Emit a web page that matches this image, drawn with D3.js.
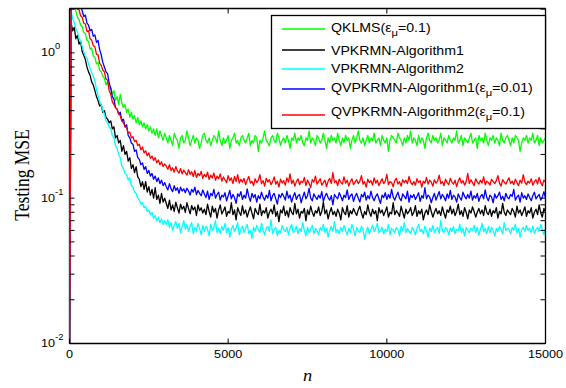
<!DOCTYPE html>
<html><head><meta charset="utf-8">
<script src="https://cdn.jsdelivr.net/npm/d3@7"></script>
<style>body{margin:0;background:#fff}svg{display:block}</style>
</head><body>
<script>
// sample positions: every 50 iterations, 0..15000
const nIndex = d3.range(0, 15001, 50);
const xTicks = [0, 5000, 10000, 15000];
const yTickExp = [0, -1, -2];

const qklms = [0.001,
2.6,2.3,2.05,1.95,1.75,1.70,1.55,1.52,1.38,1.36,1.22,1.20,
1.06,1.08,0.95,0.93,0.84,0.86,0.76,0.74,0.69,0.67,0.60,0.64,
0.57,0.58,0.52,0.55,0.47,0.50,0.44,0.52,0.45,0.42,0.44,0.39,
0.41,0.36,0.39,0.35,0.37,0.33,0.36,0.32,0.34,0.31,0.33,0.30,
0.32,0.29,0.31,0.28,0.30,0.27,0.30,0.26,0.29,0.27,0.25,0.28,
0.26,0.24,0.27,0.25,0.23,0.28,0.26,0.25,0.22,0.26,0.27,0.24,
0.25,0.29,0.26,0.23,0.25,0.27,0.24,0.26,0.25,0.22,0.24,0.27,
0.28,0.25,0.24,0.26,0.23,0.25,0.27,0.26,0.24,0.29,0.25,0.23,
0.26,0.24,0.25,0.27,0.22,0.25,0.26,0.28,0.24,0.25,0.23,0.26,
0.27,0.25,0.24,0.26,0.28,0.23,0.25,0.24,0.27,0.26,0.21,0.25,
0.24,0.26,0.29,0.25,0.24,0.23,0.26,0.27,0.25,0.24,0.28,0.26,
0.23,0.25,0.26,0.24,0.27,0.25,0.22,0.26,0.25,0.28,0.24,0.26,
0.25,0.27,0.24,0.23,0.26,0.25,0.29,0.24,0.26,0.25,0.23,0.27,
0.26,0.24,0.25,0.28,0.25,0.22,0.26,0.24,0.27,0.25,0.26,0.24,
0.28,0.25,0.23,0.26,0.24,0.27,0.25,0.26,0.22,0.25,0.27,0.24,
0.26,0.29,0.25,0.24,0.26,0.23,0.25,0.27,0.24,0.26,0.25,0.28,
0.24,0.25,0.26,0.23,0.27,0.25,0.24,0.26,0.21,0.25,0.27,0.26,
0.25,0.24,0.28,0.26,0.25,0.23,0.26,0.24,0.27,0.25,0.29,0.24,
0.26,0.25,0.23,0.27,0.24,0.26,0.25,0.22,0.26,0.28,0.25,0.24,
0.27,0.25,0.26,0.24,0.25,0.28,0.23,0.26,0.25,0.24,0.27,0.25,
0.24,0.26,0.25,0.29,0.24,0.25,0.27,0.23,0.26,0.25,0.24,0.26,
0.28,0.24,0.25,0.26,0.22,0.27,0.25,0.26,0.24,0.28,0.25,0.23,
0.26,0.25,0.27,0.24,0.26,0.25,0.23,0.28,0.25,0.24,0.26,0.27,
0.25,0.23,0.26,0.24,0.27,0.26,0.25,0.21,0.24,0.26,0.25,0.27,
0.24,0.26,0.25,0.28,0.24,0.25,0.27,0.23,0.26,0.24,0.25,0.26];

const vpAlg1 = [0.001,
1.6,1.42,1.50,1.25,1.32,1.15,1.20,1.02,0.96,0.90,0.80,0.74,
0.70,0.63,0.60,0.55,0.50,0.47,0.43,0.44,0.39,0.40,0.36,0.35,
0.33,0.34,0.30,0.31,0.26,0.27,0.24,0.25,0.21,0.23,0.20,0.21,
0.18,0.19,0.16,0.17,0.15,0.165,0.14,0.135,0.12,0.13,0.115,0.13,
0.11,0.12,0.105,0.115,0.10,0.118,0.098,0.105,0.092,0.108,0.094,0.10,
0.092,0.085,0.097,0.083,0.090,0.081,0.094,0.086,0.079,0.091,0.084,0.088,
0.080,0.093,0.085,0.078,0.089,0.083,0.087,0.076,0.090,0.082,0.086,0.079,
0.084,0.077,0.091,0.081,0.074,0.088,0.080,0.085,0.073,0.083,0.090,0.078,
0.082,0.087,0.075,0.081,0.079,0.093,0.077,0.083,0.071,0.086,0.080,0.076,
0.089,0.078,0.083,0.074,0.081,0.087,0.079,0.072,0.085,0.080,0.077,0.091,
0.076,0.082,0.079,0.086,0.073,0.080,0.084,0.078,0.090,0.075,0.081,0.069,
0.083,0.079,0.088,0.076,0.082,0.074,0.086,0.080,0.077,0.092,0.078,0.084,
0.073,0.081,0.079,0.085,0.070,0.083,0.077,0.088,0.080,0.075,0.082,0.079,
0.087,0.076,0.081,0.094,0.078,0.083,0.072,0.080,0.086,0.077,0.081,0.075,
0.084,0.079,0.071,0.086,0.080,0.077,0.089,0.074,0.082,0.078,0.085,0.080,
0.076,0.083,0.088,0.079,0.073,0.081,0.077,0.090,0.080,0.075,0.084,0.078,
0.082,0.070,0.086,0.079,0.083,0.076,0.081,0.087,0.074,0.080,0.078,0.093,
0.077,0.082,0.079,0.075,0.088,0.080,0.073,0.084,0.078,0.081,0.086,0.076,
0.080,0.089,0.075,0.082,0.078,0.084,0.071,0.079,0.083,0.077,0.090,0.081,
0.074,0.080,0.085,0.078,0.082,0.076,0.087,0.079,0.073,0.083,0.080,0.088,
0.078,0.084,0.076,0.081,0.091,0.077,0.082,0.075,0.086,0.080,0.072,0.083,
0.079,0.087,0.081,0.074,0.080,0.085,0.078,0.083,0.076,0.089,0.080,0.077,
0.084,0.075,0.082,0.079,0.086,0.073,0.081,0.078,0.092,0.080,0.076,0.083,
0.080,0.077,0.085,0.081,0.074,0.088,0.079,0.083,0.076,0.081,0.087,0.075,
0.082,0.079,0.086,0.073,0.080,0.084,0.077,0.090,0.079,0.074,0.085,0.080];

const vpAlg2 = [0.001,
1.95,1.72,1.62,1.46,1.40,1.26,1.20,1.11,1.02,0.95,0.92,0.84,
0.78,0.73,0.69,0.64,0.56,0.51,0.46,0.44,0.40,0.38,0.34,0.33,
0.31,0.30,0.27,0.26,0.23,0.22,0.20,0.19,0.165,0.16,0.148,0.145,
0.133,0.138,0.122,0.12,0.11,0.108,0.10,0.097,0.091,0.093,0.086,0.088,
0.081,0.083,0.077,0.080,0.073,0.076,0.070,0.074,0.068,0.072,0.066,0.070,
0.066,0.071,0.063,0.068,0.060,0.065,0.069,0.062,0.067,0.058,0.064,0.070,
0.061,0.066,0.059,0.064,0.068,0.057,0.063,0.060,0.067,0.062,0.056,0.065,
0.059,0.064,0.061,0.055,0.066,0.060,0.063,0.070,0.058,0.062,0.057,0.064,
0.060,0.067,0.058,0.063,0.054,0.061,0.065,0.059,0.062,0.068,0.056,0.061,
0.064,0.058,0.062,0.066,0.057,0.060,0.053,0.063,0.059,0.065,0.061,0.058,
0.067,0.060,0.056,0.062,0.064,0.059,0.071,0.057,0.061,0.063,0.055,0.060,
0.058,0.065,0.061,0.059,0.063,0.056,0.062,0.066,0.058,0.060,0.064,0.057,
0.062,0.059,0.068,0.060,0.055,0.063,0.058,0.061,0.065,0.057,0.062,0.060,
0.056,0.063,0.060,0.066,0.058,0.062,0.054,0.060,0.064,0.059,0.069,0.058,
0.061,0.057,0.063,0.059,0.065,0.060,0.056,0.062,0.058,0.066,0.061,0.055,
0.063,0.060,0.058,0.064,0.061,0.052,0.059,0.063,0.057,0.061,0.065,0.059,
0.062,0.067,0.058,0.060,0.063,0.057,0.061,0.059,0.066,0.056,0.062,0.060,
0.058,0.063,0.061,0.055,0.064,0.060,0.068,0.058,0.062,0.059,0.057,0.063,
0.060,0.056,0.062,0.066,0.059,0.061,0.057,0.064,0.060,0.054,0.062,0.059,
0.065,0.058,0.061,0.063,0.057,0.070,0.060,0.058,0.063,0.061,0.056,0.062,
0.059,0.064,0.057,0.061,0.060,0.066,0.058,0.062,0.055,0.063,0.060,0.058,
0.062,0.060,0.065,0.058,0.063,0.056,0.061,0.067,0.059,0.062,0.057,0.064,
0.058,0.063,0.060,0.055,0.062,0.059,0.064,0.061,0.057,0.068,0.060,0.062,
0.061,0.057,0.063,0.060,0.066,0.058,0.062,0.054,0.061,0.063,0.059,0.065,
0.060,0.062,0.058,0.064,0.057,0.061,0.063,0.059,0.066,0.060,0.056,0.062];

const qvpAlg1 = [0.001,
2.6,2.5,2.4,2.3,2.15,2.05,2.1,1.95,1.78,1.82,1.60,1.55,
1.42,1.45,1.30,1.33,1.18,1.22,1.05,0.97,0.86,0.80,0.74,0.72,
0.62,0.57,0.50,0.48,0.42,0.41,0.38,0.39,0.34,0.35,0.31,0.32,
0.27,0.26,0.24,0.235,0.21,0.215,0.19,0.185,0.17,0.175,0.158,0.165,
0.148,0.155,0.142,0.148,0.135,0.142,0.130,0.138,0.126,0.133,0.122,0.128,
0.120,0.114,0.126,0.116,0.111,0.122,0.113,0.118,0.108,0.119,0.112,0.116,
0.109,0.117,0.112,0.105,0.115,0.110,0.119,0.106,0.113,0.108,0.104,0.114,
0.107,0.101,0.112,0.098,0.108,0.104,0.115,0.100,0.106,0.110,0.097,0.105,
0.102,0.109,0.096,0.104,0.113,0.099,0.106,0.101,0.092,0.107,0.103,0.111,
0.098,0.105,0.100,0.116,0.103,0.095,0.108,0.101,0.106,0.094,0.104,0.099,
0.110,0.102,0.097,0.105,0.100,0.113,0.096,0.104,0.108,0.099,0.091,0.106,
0.101,0.108,0.103,0.097,0.112,0.100,0.105,0.094,0.103,0.109,0.098,0.104,
0.106,0.093,0.102,0.110,0.099,0.104,0.117,0.100,0.096,0.107,0.102,0.098,
0.105,0.100,0.111,0.095,0.103,0.108,0.101,0.097,0.104,0.090,0.106,0.102,
0.099,0.109,0.103,0.096,0.105,0.101,0.114,0.098,0.104,0.107,0.095,0.103,
0.108,0.100,0.094,0.106,0.102,0.110,0.097,0.104,0.099,0.112,0.101,0.096,
0.103,0.107,0.099,0.092,0.105,0.101,0.109,0.098,0.106,0.100,0.115,0.102,
0.097,0.104,0.110,0.100,0.096,0.107,0.103,0.099,0.112,0.094,0.105,0.101,
0.106,0.098,0.103,0.109,0.095,0.104,0.100,0.118,0.099,0.105,0.102,0.093,
0.101,0.108,0.097,0.104,0.111,0.099,0.106,0.102,0.096,0.107,0.100,0.113,
0.098,0.105,0.102,0.094,0.107,0.101,0.097,0.110,0.103,0.099,0.106,0.100,
0.112,0.097,0.104,0.100,0.108,0.095,0.103,0.106,0.099,0.114,0.101,0.096,
0.105,0.102,0.093,0.107,0.100,0.104,0.110,0.098,0.103,0.096,0.108,0.101,
0.099,0.106,0.103,0.115,0.097,0.102,0.105,0.094,0.109,0.100,0.104,0.098,
0.107,0.101,0.096,0.104,0.110,0.099,0.103,0.106,0.097,0.102,0.111,0.100];

const qvpAlg2 = [0.001,
2.5,2.35,2.3,2.15,2.0,1.98,1.80,1.76,1.60,1.58,1.40,1.42,
1.25,1.22,1.12,1.10,0.98,0.97,0.85,0.82,0.76,0.74,0.66,0.65,
0.55,0.52,0.46,0.44,0.42,0.41,0.38,0.37,0.34,0.33,0.31,0.305,
0.28,0.285,0.26,0.265,0.245,0.25,0.23,0.235,0.215,0.225,0.205,0.212,
0.196,0.205,0.188,0.195,0.182,0.19,0.175,0.183,0.17,0.178,0.165,0.172,
0.166,0.158,0.170,0.155,0.162,0.151,0.165,0.154,0.149,0.160,0.147,0.156,
0.150,0.144,0.157,0.146,0.152,0.141,0.155,0.139,0.148,0.143,0.153,0.137,
0.146,0.140,0.151,0.135,0.144,0.138,0.149,0.133,0.142,0.136,0.147,0.131,
0.140,0.134,0.128,0.143,0.132,0.138,0.126,0.141,0.130,0.145,0.127,0.135,
0.129,0.137,0.124,0.133,0.141,0.127,0.131,0.122,0.136,0.128,0.133,0.145,
0.126,0.132,0.121,0.137,0.129,0.134,0.124,0.130,0.140,0.125,0.131,0.119,
0.135,0.127,0.132,0.123,0.138,0.129,0.147,0.126,0.133,0.121,0.130,0.136,
0.124,0.131,0.128,0.139,0.122,0.133,0.127,0.118,0.134,0.129,0.142,0.125,
0.130,0.136,0.123,0.128,0.133,0.120,0.131,0.137,0.126,0.150,0.128,0.132,
0.122,0.135,0.129,0.125,0.140,0.127,0.133,0.121,0.130,0.136,0.124,0.129,
0.134,0.126,0.131,0.143,0.125,0.130,0.119,0.135,0.128,0.132,0.123,0.138,
0.127,0.133,0.122,0.129,0.136,0.126,0.131,0.146,0.124,0.130,0.128,0.120,
0.132,0.137,0.125,0.130,0.121,0.134,0.128,0.133,0.126,0.141,0.129,0.124,
0.130,0.123,0.136,0.128,0.132,0.119,0.131,0.127,0.139,0.125,0.133,0.129,
0.121,0.134,0.127,0.131,0.144,0.126,0.130,0.122,0.135,0.128,0.124,0.137,
0.129,0.125,0.133,0.120,0.131,0.138,0.127,0.132,0.123,0.130,0.148,0.126,
0.134,0.128,0.122,0.136,0.129,0.125,0.133,0.127,0.140,0.124,0.131,0.128,
0.123,0.135,0.130,0.126,0.132,0.143,0.127,0.121,0.134,0.129,0.125,0.132,
0.138,0.126,0.131,0.124,0.135,0.128,0.122,0.133,0.127,0.145,0.129,0.124,
0.131,0.127,0.136,0.123,0.130,0.134,0.125,0.139,0.128,0.122,0.133,0.129];

const seriesNames = ["QKLMS", "VPKRMN-Algorithm1", "VPKRMN-Algorithm2", "QVPKRMN-Algorithm1", "QVPKRMN-Algorithm2"];
const seriesEps = ["0.1", null, null, "0.01", "0.1"];
const seriesValues = [qklms, vpAlg1, vpAlg2, qvpAlg1, qvpAlg2];
const seriesColors = ["#00ff00", "#000000", "#00ffff", "#0000ff", "#ff0000"];

const W = 566, H = 388;
const L = 69.5, R = 545.5, T = 8.5, B = 343.5;
const sansFont = "Liberation Sans, Arial, sans-serif";
const serifFont = "Liberation Serif, Times New Roman, serif";

const svg = d3.select("body").append("svg").attr("width", W).attr("height", H);

const x = d3.scaleLinear().domain([0, 15000]).range([L, R]);
const y = d3.scaleLog().domain([0.01, 2.02]).range([B, T]);

svg.append("defs").append("clipPath").attr("id", "clip")
  .append("rect").attr("x", L - 1.5).attr("y", T).attr("width", R - L + 1.5).attr("height", B - T);

// left axis line (curves drawn over it)
svg.append("line").attr("x1", L).attr("x2", L).attr("y1", T).attr("y2", B).attr("stroke", "#000").attr("stroke-width", 1.3);

// curves
const line = d3.line().x((d, i) => x(nIndex[i])).y(d => y(Math.max(d, 0.005)));
const gLines = svg.append("g").attr("clip-path", "url(#clip)");
seriesValues.forEach((vals, k) => {
  gLines.append("path").datum(vals).attr("d", line)
    .attr("fill", "none").attr("stroke", seriesColors[k]).attr("stroke-width", 1.3)
    .attr("stroke-linejoin", "round");
});

// rest of box
const axStroke = "#000";
svg.append("line").attr("x1", L).attr("x2", R).attr("y1", T).attr("y2", T).attr("stroke", axStroke).attr("stroke-width", 1.3);
svg.append("line").attr("x1", L).attr("x2", R).attr("y1", B).attr("y2", B).attr("stroke", axStroke).attr("stroke-width", 1.3);
svg.append("line").attr("x1", R).attr("x2", R).attr("y1", T).attr("y2", B).attr("stroke", axStroke).attr("stroke-width", 1.3);

// x ticks (bottom & top, inward)
const tl = 5;
const gx = svg.append("g").attr("stroke", axStroke).attr("stroke-width", 1);
xTicks.forEach(t => {
  gx.append("line").attr("x1", x(t)).attr("x2", x(t)).attr("y1", B).attr("y2", B - tl);
  gx.append("line").attr("x1", x(t)).attr("x2", x(t)).attr("y1", T).attr("y2", T + tl);
});
xTicks.forEach(t => {
  svg.append("g").attr("transform", `translate(${x(t)},${B + 14}) scale(1.1,1)`)
    .append("text").attr("text-anchor", "middle")
    .attr("font-family", sansFont).attr("font-size", 11.5).text(t);
});

// y ticks: majors and minors (log)
const yTickVals = [];
for (let e = -2; e <= 0; e++) for (let m = 1; m <= 9; m++) {
  const v = m * Math.pow(10, e);
  if (v <= 2.02) yTickVals.push(v);
}
const gy = svg.append("g").attr("stroke", axStroke).attr("stroke-width", 1);
yTickVals.forEach(v => {
  gy.append("line").attr("x1", L).attr("x2", L + tl).attr("y1", y(v)).attr("y2", y(v));
  gy.append("line").attr("x1", R).attr("x2", R - tl).attr("y1", y(v)).attr("y2", y(v));
});
yTickExp.forEach(e => {
  const t = svg.append("g").attr("transform", `translate(41,${y(Math.pow(10, e)) + 3.5}) scale(1.1,1)`)
    .append("text").attr("font-family", sansFont).attr("font-size", 11.5);
  t.append("tspan").text("10");
  t.append("tspan").attr("dy", -7).attr("font-size", 8.5).text(e === 0 ? "0" : "-" + Math.abs(e));
});

// axis titles
svg.append("g").attr("transform", `translate(${(L + R) / 2},381) scale(1.15,1)`)
  .append("text").attr("text-anchor", "middle")
  .attr("font-family", serifFont).attr("font-style", "italic").attr("font-size", 16).text("n");
svg.append("g").attr("transform", "translate(28.5,175) scale(1.2,1) rotate(-90)")
  .append("text").attr("text-anchor", "middle")
  .attr("font-family", serifFont).attr("font-size", 17.5).text("Testing MSE");

// legend
const lg = svg.append("g");
lg.append("rect").attr("x", 271.5).attr("y", 15.5).attr("width", 274).attr("height", 113)
  .attr("fill", "#fff").attr("stroke", "#000").attr("stroke-width", 1.3);
const legLineY = [29, 50, 69, 89, 115];
const legTextY = [32, 55, 73, 92, 116];
seriesNames.forEach((name, k) => {
  lg.append("line").attr("x1", 282).attr("x2", 325).attr("y1", legLineY[k]).attr("y2", legLineY[k])
    .attr("stroke", seriesColors[k]).attr("stroke-width", 1.3);
  const t = lg.append("g").attr("transform", `translate(331,${legTextY[k]}) scale(1.18,1)`)
    .append("text").attr("font-family", sansFont).attr("font-size", 12);
  if (seriesEps[k]) {
    t.append("tspan").text(name + "(\u03b5");
    t.append("tspan").attr("dy", 4).attr("font-size", 9.5).text("\u03bc");
    t.append("tspan").attr("dy", -4).text("=" + seriesEps[k] + ")");
  } else {
    t.text(name);
  }
});
</script>
</body></html>
